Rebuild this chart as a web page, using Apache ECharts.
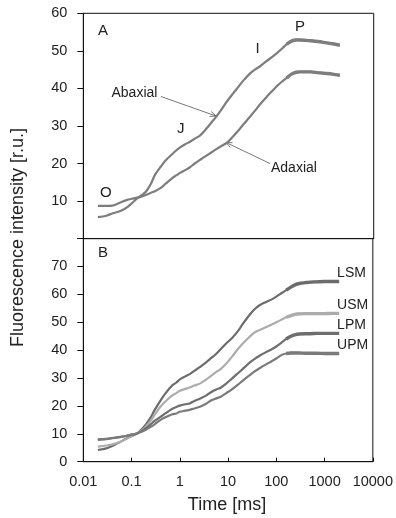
<!DOCTYPE html>
<html>
<head>
<meta charset="utf-8">
<script src="https://cdn.jsdelivr.net/npm/echarts@6/dist/echarts.min.js"></script>
<style>html,body{margin:0;padding:0;background:#fff;}#c{width:396px;height:518px;}</style>
</head>
<body>
<div id="c"></div>
<script>
// ---- data ----
const timeMs = [0.02,0.03,0.04,0.06,0.08,0.1,0.13,0.17,0.2,0.25,0.3,0.4,0.5,0.7,0.85,1,1.3,1.6,2,2.6,3.5,4.5,5.7,7,9,12,16,20,28,35,45,60,80,100,130,160,200,250,300,400,500,700,1000,1400,2000];
const abaxial = [5.7,6.1,6.7,7.4,8.3,9.4,10.7,11.8,12.6,14.6,16.9,19.2,20.8,22.6,23.6,24.3,25.2,25.8,26.6,27.5,29.3,31.0,32.6,34.2,36.3,38.4,40.4,42.0,44.0,45.0,45.9,47.2,48.4,49.4,50.7,51.8,52.6,52.9,52.9,52.8,52.7,52.5,52.2,51.9,51.5];
const adaxial = [8.7,8.7,8.8,9.7,10.3,10.6,10.9,11.3,11.7,12.2,12.6,13.5,14.6,16.2,16.9,17.5,18.3,19.0,20.0,21.0,22.1,23.0,23.9,24.6,25.4,27.0,28.8,30.3,32.5,34.0,35.8,37.6,39.3,40.6,41.9,42.8,43.8,44.3,44.4,44.4,44.4,44.2,44.0,43.8,43.5];
const LSM = [4.2,4.8,5.6,7.2,8.4,9.2,10.1,12.0,13.5,15.9,18.5,22.0,24.4,27.4,28.4,29.5,30.6,31.4,32.6,33.9,35.6,37.2,38.7,40.3,42.3,44.3,46.8,49.3,52.7,54.6,56.1,57.2,58.2,59.2,60.5,61.5,62.6,63.5,63.9,64.2,64.4,64.5,64.6,64.6,64.6];
const USM = [5.4,5.8,6.2,7.2,8.3,9.3,10.1,11.5,12.7,14.7,16.8,19.8,21.6,23.8,24.6,25.4,26.1,26.6,27.3,28.0,29.4,30.9,32.2,33.2,35.0,37.6,40.4,42.3,44.8,46.3,47.2,48.2,49.2,50.0,51.0,51.8,52.4,52.9,53.0,53.1,53.1,53.1,53.1,53.2,53.2];
const LPM = [8.0,8.2,8.5,8.9,9.3,9.7,10.1,11.2,12.0,13.4,14.6,16.1,17.3,19.0,19.6,20.1,20.6,20.9,21.8,22.6,23.7,25.0,25.9,26.5,27.9,29.8,31.7,33.2,35.5,36.8,38.0,39.2,40.3,41.3,42.8,44.0,45.0,45.6,45.8,45.9,45.9,46.0,46.0,46.0,46.0];
const UPM = [7.8,8.1,8.4,8.9,9.3,9.7,10.1,10.9,11.5,12.5,13.4,15.0,15.9,17.0,17.3,17.9,18.3,18.6,19.1,19.7,20.8,22.0,22.7,23.3,24.5,25.9,27.6,29.0,31.0,32.3,33.5,34.8,36.0,37.0,38.3,38.8,39.0,39.0,39.0,38.9,38.9,38.9,38.8,38.8,38.8];
const xTickLabels = ['0.01','0.1','1','10','100','1000','10000'];
const yTicksA = [10,20,30,40,50,60];
const yTicksB = [0,10,20,30,40,50,60,70];
const seriesNamesB = ['LSM','USM','LPM','UPM'];

// ---- build ----
const FONT = 'Liberation Sans, Arial, sans-serif';
const TAIL = 160;
const pairs = v => timeMs.map((t,i)=>[t,v[i]]);
const tail = v => timeMs.map((t,i)=>[t,v[i]]).filter(p=>p[0]>=TAIL);

const chart = echarts.init(document.getElementById('c'), null, {renderer:'canvas'});
const GL = 83.3, GW = 290.4;
const grids = [
  {left:GL, top:13.3, width:GW, height:225.3, show:true, borderColor:'#111', borderWidth:1, backgroundColor:'transparent'},
  {left:GL, top:238.6, width:GW, height:223.1, show:true, borderColor:'#111', borderWidth:1, backgroundColor:'transparent'}
];
const xAxisBase = (gi, showLabels) => ({
  type:'log', logBase:10, min:0.01, max:10000, gridIndex:gi,
  axisLine:{show:true, lineStyle:{color:'#111', width:1}},
  axisTick:{show:showLabels, inside:true, length:4, lineStyle:{color:'#111'}},
  minorTick:{show:false}, splitLine:{show:false},
  axisLabel:{show:showLabels, margin:13, color:'#222', fontFamily:FONT, fontSize:14.5,
    formatter:(v)=>{ const s = String(+(+v).toPrecision(6)); return xTickLabels.includes(s)?s:''; }}
});
const yAxisBase = (gi, max, ticks) => ({
  type:'value', min:0, max:max, interval:10, gridIndex:gi,
  axisLine:{show:true, lineStyle:{color:'#111', width:1}},
  axisTick:{show:true, inside:false, length:6, lineStyle:{color:'#111'}},
  splitLine:{show:false},
  axisLabel:{margin:16, color:'#222', fontFamily:FONT, fontSize:14.5,
    formatter:(v)=> ticks.includes(v)? String(v):''}
});
const colorsB = ['#6c6c6c','#acacac','#6e6e6e','#7a7a7a'];
const dataB = [LSM,USM,LPM,UPM];
const series = [];
[[abaxial,'Abaxial'],[adaxial,'Adaxial']].forEach(([v,n])=>{
  series.push({type:'line', name:n, xAxisIndex:0, yAxisIndex:0, data:pairs(v), showSymbol:false, smooth:0.3,
    lineStyle:{color:'#7d7d7d', width:2.2}, silent:true, animation:false});
  series.push({type:'line', name:n+'tail', xAxisIndex:0, yAxisIndex:0, data:tail(v), showSymbol:false, smooth:0.3,
    lineStyle:{color:'#7d7d7d', width:3.4}, silent:true, animation:false});
});
dataB.forEach((v,i)=>{
  series.push({type:'line', name:seriesNamesB[i], xAxisIndex:1, yAxisIndex:1, data:pairs(v), showSymbol:false, smooth:0.3,
    lineStyle:{color:colorsB[i], width:2.2}, silent:true, animation:false});
  series.push({type:'line', name:seriesNamesB[i]+'t', xAxisIndex:1, yAxisIndex:1, data:tail(v), showSymbol:false, smooth:0.3,
    lineStyle:{color:colorsB[i], width:3.4}, silent:true, animation:false,
    endLabel:{show:true, formatter:seriesNamesB[i], color:'#222', fontFamily:FONT, fontSize:14, offset:[-10,-8]}});
});

const F14 = '14px '+FONT, F15 = '15px '+FONT;
function txt(x,y,t,font){ return {type:'text', x:x, y:y, silent:true,
  style:{text:t, fill:'#222', font:font||F14, textAlign:'left', textVerticalAlign:'middle'}}; }
function arrow(x1,y1,x2,y2){
  const dx=x2-x1, dy=y2-y1, L=Math.hypot(dx,dy), ux=dx/L, uy=dy/L, h=6, w=2.6;
  return [
    {type:'line', silent:true, shape:{x1,y1,x2,y2}, style:{stroke:'#555', lineWidth:0.8}},
    {type:'polyline', silent:true, shape:{points:[[x2-ux*h-uy*w, y2-uy*h+ux*w],[x2,y2],[x2-ux*h+uy*w, y2-uy*h-ux*w]]}, style:{stroke:'#555', lineWidth:0.8, fill:null}}
  ];
}
const graphic = [
  txt(98,31,'A',F15),
  txt(98,253,'B',F15),
  txt(100,193,'O',F15),
  txt(177,128.5,'J',F15),
  txt(255.5,48.5,'I',F15),
  txt(295,27,'P',F15),
  txt(111.5,93.5,'Abaxial'),
  txt(271,168.5,'Adaxial'),
  ...arrow(161,96.5,216,116),
  ...arrow(270,163.5,226,142.5),
  {type:'text', x:18, y:237.5, rotation:Math.PI/2, silent:true,
    style:{text:'Fluorescence intensity [r.u.]', fill:'#222', font:'18px '+FONT, textAlign:'center', textVerticalAlign:'middle'}},
  {type:'text', x:227, y:505, silent:true,
    style:{text:'Time [ms]', fill:'#222', font:'18px '+FONT, textAlign:'center', textVerticalAlign:'middle'}}
];

chart.setOption({
  animation:false,
  backgroundColor:'#fff',
  grid:grids,
  xAxis:[xAxisBase(0,false), xAxisBase(1,true)],
  yAxis:[yAxisBase(0,60,yTicksA), yAxisBase(1,80,yTicksB)],
  series:series,
  graphic:graphic
});
</script>
</body>
</html>
